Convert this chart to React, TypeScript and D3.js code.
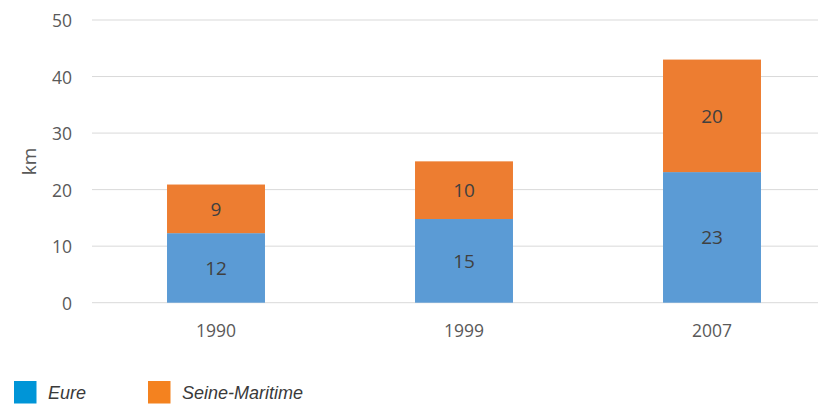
import React from "react";
import * as d3 from "d3";

const categories = ["1990", "1999", "2007"];
const eure = [12.3, 14.8, 23.1];
const seineMaritime = [8.6, 10.2, 19.9];
const seriesNames = ["Eure", "Seine-Maritime"];
const yTicks = [0, 10, 20, 30, 40, 50];

const W = 818;
const H = 404;
const barColors = ["#5B9BD5", "#ED7D31"];
const legendColors = ["#0095D7", "#F4821F"];
const font = "'Open Sans', 'Liberation Sans', sans-serif";

export default function App() {
  const x = d3
    .scaleBand<string>()
    .domain(categories)
    .range([92, 836])
    .paddingInner(0.605)
    .paddingOuter(0.3025);
  const y = d3.scaleLinear().domain([0, 50]).range([302.7, 20]);

  const rows = categories.map((c, i) => ({ cat: c, Eure: eure[i], "Seine-Maritime": seineMaritime[i] }));
  const stacked = d3.stack<any>().keys(seriesNames)(rows);

  return (
    <svg
      width={W}
      height={H}
      style={{ position: "absolute", left: 0, top: 0, background: "#fff" }}
      fontFamily={font}
    >
      {yTicks.map((t) => (
        <g key={t}>
          <line x1={92} x2={W} y1={y(t)} y2={y(t)} stroke="#d9d9d9" strokeWidth={1} />
          <text x={72} y={y(t)} textAnchor="end" dominantBaseline="central" fontSize={17.5} fill="#595959">
            {t}
          </text>
        </g>
      ))}
      <text
        transform={`translate(29,${(y(0) + y(50)) / 2}) rotate(-90)`}
        textAnchor="middle"
        dominantBaseline="central"
        fontSize={19}
        fill="#595959"
      >
        km
      </text>
      {stacked.map((s, si) =>
        s.map((d, i) => {
          const y0 = y(d[0]);
          const y1 = y(d[1]);
          const v = (d.data as any)[seriesNames[si]] as number;
          return (
            <g key={`${si}-${i}`}>
              <rect x={x(categories[i])} y={y1} width={x.bandwidth()} height={y0 - y1} fill={barColors[si]} />
              <text
                x={(x(categories[i]) as number) + x.bandwidth() / 2}
                y={(y0 + y1) / 2}
                textAnchor="middle"
                dominantBaseline="central"
                fontSize={19}
                fill="#404040"
              >
                {Math.round(v)}
              </text>
            </g>
          );
        })
      )}
      {categories.map((c) => (
        <text
          key={c}
          x={(x(c) as number) + x.bandwidth() / 2}
          y={337}
          textAnchor="middle"
          fontSize={17.5}
          fill="#595959"
        >
          {c}
        </text>
      ))}
      {seriesNames.map((n, i) => {
        const lx = i === 0 ? 14 : 148;
        return (
          <g key={n}>
            <rect x={lx} y={381} width={22.5} height={22.5} fill={legendColors[i]} />
            <text
              x={lx + 34}
              y={399}
              fontSize={18}
              fontStyle="italic"
              fill="#3a3a3a"
              fontFamily="'Liberation Sans', sans-serif"
            >
              {n}
            </text>
          </g>
        );
      })}
    </svg>
  );
}
